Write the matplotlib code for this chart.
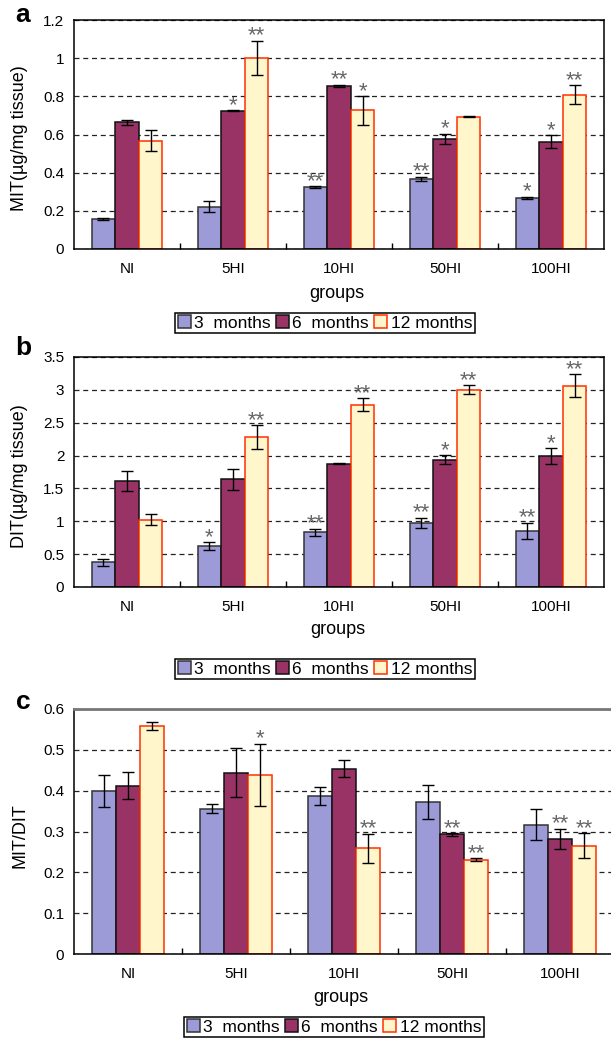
import numpy as np
import matplotlib
matplotlib.use('Agg')
from matplotlib import pyplot as plt
from matplotlib.patches import Patch

plt.rcParams['font.family'] = ['Liberation Sans', 'DejaVu Sans']

groups = ['NI', '5HI', '10HI', '50HI', '100HI']
series = ['3  months', '6  months', '12 months']

# panel a: MIT
mit_3m = [0.156, 0.222, 0.326, 0.366, 0.267]
mit_3m_err = [0.005, 0.03, 0.004, 0.012, 0.006]
mit_6m = [0.665, 0.724, 0.856, 0.577, 0.562]
mit_6m_err = [0.013, 0.003, 0.006, 0.028, 0.034]
mit_12m = [0.568, 1.0, 0.726, 0.693, 0.809]
mit_12m_err = [0.057, 0.09, 0.074, 0.003, 0.05]
mit_stars_3m = ['', '', '**', '**', '*']
mit_stars_6m = ['', '*', '**', '*', '*']
mit_stars_12m = ['', '**', '*', '', '**']

# panel b: DIT
dit_3m = [0.38, 0.624, 0.835, 0.971, 0.856]
dit_3m_err = [0.053, 0.058, 0.053, 0.08, 0.123]
dit_6m = [1.615, 1.636, 1.877, 1.938, 1.993]
dit_6m_err = [0.156, 0.156, 0.005, 0.07, 0.116]
dit_12m = [1.027, 2.28, 2.773, 3.0, 3.06]
dit_12m_err = [0.085, 0.18, 0.096, 0.068, 0.176]
dit_stars_3m = ['', '*', '**', '**', '**']
dit_stars_6m = ['', '', '', '*', '*']
dit_stars_12m = ['', '**', '**', '**', '**']

# panel c: MIT/DIT
ratio_3m = [0.400, 0.356, 0.387, 0.373, 0.317]
ratio_3m_err = [0.039, 0.011, 0.022, 0.042, 0.038]
ratio_6m = [0.412, 0.444, 0.454, 0.293, 0.282]
ratio_6m_err = [0.033, 0.06, 0.02, 0.003, 0.025]
ratio_12m = [0.558, 0.439, 0.259, 0.231, 0.265]
ratio_12m_err = [0.01, 0.076, 0.035, 0.004, 0.031]
ratio_stars_3m = ['', '', '', '', '']
ratio_stars_6m = ['', '', '', '**', '**']
ratio_stars_12m = ['', '*', '**', '**', '**']

faces = ['#9d9ad8', '#993366', '#fff6cc']
edges = ['#333333', '#111111', '#ff3000']

W, H = 611, 1040


def draw_panel(ax, vals, errs, stars, ymax, ystep, top_gray=False):
    x = np.arange(len(groups))
    w = 1 / 4.5
    for i in range(3):
        xs = x + (i - 1) * w
        ax.bar(xs, vals[i], width=w, color=faces[i], edgecolor=edges[i],
               linewidth=1.1, zorder=2)
        ax.errorbar(xs, vals[i], yerr=errs[i], fmt='none', ecolor='black',
                    elinewidth=1, capsize=4, capthick=1, zorder=3)
        for j in range(len(groups)):
            if stars[i][j]:
                ax.annotate(stars[i][j], (xs[j], vals[i][j] + errs[i][j]),
                            xytext=(0, -0.5), textcoords='offset points',
                            ha='center', va='baseline', fontsize=16,
                            color='#666666', zorder=4)
    ax.set_xlim(-0.5, len(groups) - 0.5)
    ax.set_ylim(0, ymax)
    ax.set_yticks(np.arange(0, ymax + ystep / 2, ystep))
    ax.set_yticklabels(['%g' % t for t in np.arange(0, ymax + ystep / 2, ystep)])
    ax.yaxis.grid(True, linestyle=(0, (4, 3)), color='#222222', linewidth=0.9)
    ax.set_axisbelow(True)
    ax.set_xticks(x)
    ax.set_xticklabels(groups)
    ax.set_xticks(x[:-1] + 0.5, minor=True)
    ax.tick_params(axis='x', which='major', length=0, pad=9.5, labelsize=11)
    ax.tick_params(axis='x', which='minor', direction='in', length=4.5, width=1)
    ax.tick_params(axis='y', length=0, pad=7, labelsize=11)
    for s in ax.spines.values():
        s.set_linewidth(1.1)
        s.set_color('black')
    if top_gray:
        ax.spines['top'].set_color('#777777')
        ax.spines['top'].set_linewidth(2)
        ax.spines['right'].set_visible(False)


def fx(px):
    return px / W


def fy(py):
    return 1 - py / H


fig = plt.figure(figsize=(W / 100, H / 100), dpi=100)

panels = [
    dict(top=20, bot=249, right=604, vals=[mit_3m, mit_6m, mit_12m],
         errs=[mit_3m_err, mit_6m_err, mit_12m_err],
         stars=[mit_stars_3m, mit_stars_6m, mit_stars_12m],
         ymax=1.2, ystep=0.2, ylabel='MIT(µg/mg tissue)', letter='a',
         letter_y=15, groups_y=294, groups_x=337, leg_y=323, leg_x=325, gray=False),
    dict(top=357, bot=587, right=604, vals=[dit_3m, dit_6m, dit_12m],
         errs=[dit_3m_err, dit_6m_err, dit_12m_err],
         stars=[dit_stars_3m, dit_stars_6m, dit_stars_12m],
         ymax=3.5, ystep=0.5, ylabel='DIT(µg/mg tissue)', letter='b',
         letter_y=348, groups_y=630, groups_x=338, leg_y=669, leg_x=325, gray=False),
    dict(top=709, bot=954, right=614, vals=[ratio_3m, ratio_6m, ratio_12m],
         errs=[ratio_3m_err, ratio_6m_err, ratio_12m_err],
         stars=[ratio_stars_3m, ratio_stars_6m, ratio_stars_12m],
         ymax=0.6, ystep=0.1, ylabel='MIT/DIT', letter='c',
         letter_y=702, groups_y=997, groups_x=341, leg_y=1027, leg_x=334, gray=True),
]

handles = [Patch(facecolor=faces[i], edgecolor=edges[i], linewidth=1.1) for i in range(3)]

for p in panels:
    left = 74
    ax = fig.add_axes([fx(left), fy(p['bot']), (p['right'] - left) / W,
                       (p['bot'] - p['top']) / H])
    draw_panel(ax, p['vals'], p['errs'], p['stars'], p['ymax'], p['ystep'], p['gray'])
    fig.text(fx(20), fy((p['top'] + p['bot']) / 2 + 4), p['ylabel'], rotation=90,
             ha='center', va='center', fontsize=13)
    fig.text(fx(23), fy(p['letter_y']), p['letter'], fontsize=19, fontweight='bold',
             ha='center', va='center')
    fig.text(fx(p['groups_x']), fy(p['groups_y']), 'groups', ha='center',
             va='center', fontsize=13)
    leg = fig.legend(handles, series, loc='center',
                     bbox_to_anchor=(fx(p['leg_x']), fy(p['leg_y'])), ncol=3,
                     fontsize=12.5, frameon=True, fancybox=False, framealpha=1,
                     edgecolor='black', handlelength=0.75, handleheight=0.75,
                     handletextpad=0.2, columnspacing=0.3, borderpad=0.15,
                     borderaxespad=0)
    leg.get_frame().set_linewidth(1.1)

fig.savefig('out.png', dpi=100)
